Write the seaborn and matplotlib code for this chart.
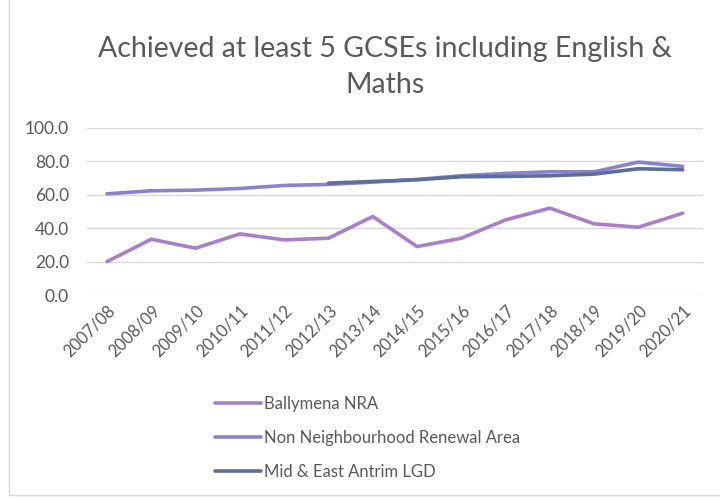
import matplotlib
matplotlib.use("Agg")
import matplotlib.pyplot as plt
import seaborn as sns
import pandas as pd
import numpy as np
from matplotlib.patches import Rectangle

years = ["2007/08", "2008/09", "2009/10", "2010/11", "2011/12", "2012/13", "2013/14",
         "2014/15", "2015/16", "2016/17", "2017/18", "2018/19", "2019/20", "2020/21"]
ballymena_nra = [20.0, 33.4, 28.0, 36.6, 33.0, 34.0, 47.0, 29.0, 34.0, 45.0, 52.0, 42.6, 40.6, 49.0]
non_nra = [60.6, 62.4, 62.8, 63.8, 65.6, 66.2, 67.6, 69.2, 71.4, 72.8, 73.8, 73.8, 79.6, 77.0]
mid_east_antrim = [np.nan, np.nan, np.nan, np.nan, np.nan, 67.0, 68.0, 69.0, 70.8, 71.0, 71.4, 72.4, 75.6, 75.0]

series_names = ["Ballymena NRA", "Non Neighbourhood Renewal Area", "Mid & East Antrim LGD"]
series_values = [ballymena_nra, non_nra, mid_east_antrim]
colors = ["#A87FC9", "#8A83CB", "#5B6F98"]

df = pd.concat(
    [pd.DataFrame({"Year": years, "idx": range(len(years)), "Value": v, "Series": n})
     for n, v in zip(series_names, series_values)],
    ignore_index=True,
)

sns.set_theme(style="white")
plt.rcParams["font.family"] = ["Lato", "DejaVu Sans"]
text_color = "#595959"

fig = plt.figure(figsize=(7.2, 5.0), dpi=100)
ax = fig.add_axes([0.121, 0.41, 0.855, 0.334])

sns.lineplot(data=df, x="idx", y="Value", hue="Series", hue_order=series_names,
             palette=colors, linewidth=2.6, ax=ax, legend=False,
             solid_capstyle="round")

ax.set_xlim(-0.45, len(years) - 1 + 0.45)
ax.set_ylim(0, 100)
ax.set_yticks(np.arange(0, 101, 20))
ax.set_yticklabels([f"{v:.1f}" for v in np.arange(0, 101, 20)], color=text_color, fontsize=12.5)
ax.set_xticks(range(len(years)))
ax.set_xticklabels(years, rotation=45, ha="right", rotation_mode="anchor",
                   color=text_color, fontsize=12)
ax.tick_params(axis="x", length=0, pad=5)
ax.tick_params(axis="y", length=0, pad=13)
ax.grid(axis="y", color="#D9D9D9", linewidth=1.0)
ax.set_axisbelow(True)
for s in ax.spines.values():
    s.set_visible(False)
ax.set_xlabel("")
ax.set_ylabel("")

fig.text(0.535, 0.866, "Achieved at least 5 GCSEs including English &\nMaths",
         ha="center", va="center", fontsize=20.5, color=text_color, linespacing=1.52)

handles = [plt.Line2D([0], [0], color=c, linewidth=2.6, solid_capstyle="round") for c in colors]
leg = fig.legend(handles, series_names, loc="center left", bbox_to_anchor=(215 / 720, 1 - 438 / 500),
                 bbox_transform=fig.transFigure, frameon=False, fontsize=12, borderpad=0,
                 borderaxespad=0, handlelength=2.75, handletextpad=0.2, labelspacing=1.07)
for t in leg.get_texts():
    t.set_color(text_color)

fig.patches.append(Rectangle((9 / 720, 5 / 500), 720, 1, transform=fig.transFigure,
                             fill=False, edgecolor="#D9D9D9", linewidth=1.0))

fig.savefig("out.png", dpi=100)
